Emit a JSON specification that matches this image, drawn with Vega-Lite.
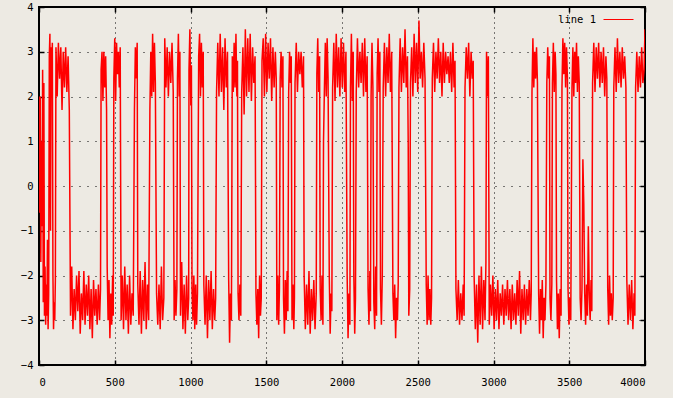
{
  "$schema": "https://vega.github.io/schema/vega-lite/v6.json",
  "autosize": {"type": "none"},
  "padding": {"left": 39, "top": 7, "right": 28, "bottom": 33},
  "width": 606,
  "height": 358,
  "background": "#EDEAE3",
  "config": {
    "view": {"stroke": "#000000", "strokeWidth": 2, "fill": null},
    "font": "DejaVu Sans Mono"
  },
  "data": {"values": [
{"t":0,"v":2.0},{"t":4,"v":-0.6},{"t":8,"v":2.0},{"t":12,"v":-1.7},{"t":16,"v":1.0},{"t":20,"v":-0.9},{"t":24,"v":2.6},{"t":28,"v":-2.6},{"t":32,"v":2.3},{"t":36,"v":-2.9},{"t":40,"v":-1.8},{"t":44,"v":-3.1},{"t":48,"v":-2.2},{"t":52,"v":-2.9},{"t":56,"v":-1.2},{"t":60,"v":-3.2},{"t":64,"v":-2.4},
{"t":68,"v":2.9},{"t":72,"v":3.4},{"t":76,"v":-1.0},{"t":80,"v":3.1},{"t":84,"v":2.5},{"t":88,"v":3.2},
{"t":92,"v":-2.0},{"t":96,"v":-3.2},{"t":100,"v":-2.6},{"t":104,"v":-3.0},{"t":108,"v":-2.1},
{"t":112,"v":3.1},{"t":120,"v":2.0},{"t":128,"v":3.2},{"t":136,"v":2.4},{"t":144,"v":3.1},{"t":152,"v":1.7},{"t":160,"v":3.0},{"t":168,"v":2.2},{"t":176,"v":3.1},{"t":184,"v":2.1},{"t":192,"v":2.9},{"t":200,"v":1.7},
{"t":208,"v":-2.9},{"t":216,"v":-1.8},{"t":224,"v":-3.2},{"t":232,"v":-2.3},{"t":240,"v":-3.0},{"t":248,"v":-2.0},{"t":256,"v":-2.8},{"t":264,"v":-1.9},{"t":272,"v":-3.3},{"t":280,"v":-2.4},{"t":288,"v":-3.0},{"t":296,"v":-1.9},{"t":304,"v":-3.1},{"t":312,"v":-2.2},{"t":320,"v":-2.9},{"t":328,"v":-2.0},{"t":336,"v":-3.2},{"t":344,"v":-2.3},{"t":352,"v":-3.4},{"t":360,"v":-2.1},{"t":368,"v":-2.9},{"t":376,"v":-2.3},{"t":384,"v":-3.1},{"t":392,"v":-2.2},{"t":400,"v":-3.0},{"t":406,"v":-2.3},
{"t":410,"v":2.6},{"t":416,"v":3.0},{"t":422,"v":1.9},{"t":428,"v":3.0},{"t":434,"v":2.2},{"t":440,"v":2.9},{"t":446,"v":1.7},
{"t":450,"v":-1.8},{"t":456,"v":-3.0},{"t":462,"v":-2.1},{"t":468,"v":-3.4},{"t":474,"v":-2.4},{"t":480,"v":-3.1},{"t":486,"v":-2.0},{"t":490,"v":-2.9},
{"t":494,"v":2.4},{"t":500,"v":3.3},{"t":506,"v":1.9},{"t":512,"v":3.2},{"t":518,"v":2.5},{"t":524,"v":3.0},{"t":530,"v":2.2},{"t":536,"v":3.1},
{"t":542,"v":-3.0},{"t":550,"v":-2.0},{"t":558,"v":-3.2},{"t":566,"v":-1.8},{"t":574,"v":-3.0},{"t":582,"v":-2.2},{"t":590,"v":-3.3},{"t":598,"v":-2.0},{"t":606,"v":-3.1},{"t":614,"v":-2.4},{"t":622,"v":-2.9},
{"t":630,"v":1.7},{"t":636,"v":3.1},{"t":642,"v":2.4},{"t":648,"v":3.2},
{"t":652,"v":-2.2},{"t":660,"v":-3.1},{"t":668,"v":-1.9},{"t":676,"v":-3.3},{"t":684,"v":-2.1},{"t":692,"v":-3.0},{"t":700,"v":-1.7},{"t":708,"v":-3.2},{"t":716,"v":-2.2},{"t":724,"v":-3.0},
{"t":732,"v":1.7},{"t":738,"v":3.0},{"t":744,"v":2.0},{"t":750,"v":3.4},{"t":756,"v":2.1},{"t":762,"v":3.2},{"t":768,"v":2.3},
{"t":776,"v":-2.4},{"t":784,"v":-3.1},{"t":792,"v":-2.2},{"t":800,"v":-3.2},{"t":808,"v":-1.8},{"t":816,"v":-3.0},{"t":824,"v":-2.5},
{"t":830,"v":3.3},{"t":838,"v":2.2},{"t":846,"v":3.1},{"t":854,"v":2.0},{"t":862,"v":3.0},{"t":870,"v":2.3},{"t":878,"v":3.2},{"t":886,"v":2.1},
{"t":892,"v":-3.0},{"t":898,"v":-2.1},{"t":904,"v":-2.9},{"t":910,"v":-2.3},
{"t":914,"v":2.4},{"t":920,"v":3.4},{"t":926,"v":2.0},{"t":930,"v":3.0},
{"t":934,"v":-2.9},{"t":942,"v":-1.7},{"t":950,"v":-3.2},{"t":958,"v":-2.2},{"t":966,"v":-3.3},{"t":974,"v":-2.0},{"t":982,"v":-3.0},{"t":988,"v":-2.5},
{"t":990,"v":2.6},{"t":996,"v":3.5},{"t":1002,"v":1.8},{"t":1006,"v":2.7},
{"t":1010,"v":-2.3},{"t":1016,"v":-3.0},{"t":1022,"v":-2.0},{"t":1028,"v":-3.2},{"t":1034,"v":-2.2},{"t":1040,"v":-3.1},{"t":1046,"v":-2.4},
{"t":1054,"v":2.9},{"t":1060,"v":3.4},{"t":1066,"v":2.0},{"t":1072,"v":3.2},{"t":1078,"v":2.2},{"t":1084,"v":3.0},
{"t":1088,"v":-2.2},{"t":1096,"v":-3.1},{"t":1104,"v":-2.0},{"t":1112,"v":-3.4},{"t":1120,"v":-2.1},{"t":1128,"v":-3.0},{"t":1136,"v":-1.9},{"t":1144,"v":-3.2},{"t":1152,"v":-2.3},{"t":1160,"v":-3.0},{"t":1166,"v":-2.5},
{"t":1172,"v":2.1},{"t":1180,"v":3.2},{"t":1188,"v":2.0},{"t":1196,"v":3.4},{"t":1204,"v":2.1},{"t":1212,"v":3.1},{"t":1220,"v":1.7},{"t":1228,"v":3.3},{"t":1236,"v":2.2},{"t":1244,"v":3.0},
{"t":1252,"v":-2.1},{"t":1258,"v":-3.5},{"t":1264,"v":-2.4},{"t":1270,"v":-3.0},
{"t":1276,"v":2.9},{"t":1282,"v":2.1},{"t":1288,"v":3.2},{"t":1294,"v":2.2},{"t":1300,"v":3.4},{"t":1306,"v":2.0},{"t":1310,"v":2.8},
{"t":1314,"v":-2.4},{"t":1320,"v":-3.0},{"t":1326,"v":-2.2},{"t":1332,"v":-2.9},
{"t":1338,"v":2.1},{"t":1346,"v":3.1},{"t":1354,"v":1.6},{"t":1362,"v":3.5},{"t":1370,"v":2.0},{"t":1378,"v":3.3},{"t":1386,"v":2.1},{"t":1394,"v":3.4},{"t":1402,"v":1.9},{"t":1410,"v":3.1},{"t":1418,"v":2.3},{"t":1426,"v":2.9},
{"t":1432,"v":-2.4},{"t":1438,"v":-3.1},{"t":1444,"v":-2.3},{"t":1450,"v":-3.4},{"t":1456,"v":-2.0},{"t":1462,"v":-2.9},{"t":1467,"v":-2.5},
{"t":1472,"v":2.8},{"t":1480,"v":3.3},{"t":1488,"v":2.0},{"t":1496,"v":3.4},{"t":1504,"v":2.1},{"t":1512,"v":3.2},{"t":1520,"v":2.4},{"t":1528,"v":3.3},{"t":1536,"v":1.9},{"t":1544,"v":3.1},{"t":1552,"v":2.2},{"t":1560,"v":3.0},{"t":1566,"v":2.4},
{"t":1570,"v":-3.0},{"t":1576,"v":-2.0},{"t":1582,"v":-3.1},{"t":1587,"v":-2.3},
{"t":1592,"v":2.4},{"t":1598,"v":3.0},{"t":1604,"v":2.2},{"t":1610,"v":2.9},
{"t":1614,"v":-2.5},{"t":1620,"v":-3.3},{"t":1626,"v":-2.1},{"t":1632,"v":-3.0},{"t":1638,"v":-1.9},{"t":1643,"v":-2.8},
{"t":1648,"v":2.1},{"t":1654,"v":3.0},{"t":1660,"v":2.3},{"t":1665,"v":2.9},
{"t":1670,"v":-3.0},{"t":1676,"v":-2.2},{"t":1682,"v":-3.2},{"t":1686,"v":-2.5},
{"t":1690,"v":2.3},{"t":1698,"v":3.2},{"t":1706,"v":2.1},{"t":1714,"v":3.0},{"t":1722,"v":2.5},{"t":1730,"v":3.0},{"t":1738,"v":2.2},{"t":1746,"v":2.9},
{"t":1750,"v":-2.0},{"t":1758,"v":-3.2},{"t":1766,"v":-2.2},{"t":1774,"v":-3.1},{"t":1782,"v":-1.9},{"t":1790,"v":-3.3},{"t":1798,"v":-2.3},{"t":1806,"v":-3.0},{"t":1814,"v":-2.1},{"t":1822,"v":-3.2},{"t":1830,"v":-2.4},
{"t":1834,"v":2.5},{"t":1840,"v":3.3},{"t":1846,"v":2.1},{"t":1852,"v":2.9},
{"t":1856,"v":-2.3},{"t":1862,"v":-3.0},{"t":1868,"v":-2.0},{"t":1874,"v":-3.1},
{"t":1878,"v":1.0},{"t":1884,"v":2.2},{"t":1890,"v":3.2},{"t":1896,"v":2.0},{"t":1902,"v":3.3},{"t":1908,"v":2.4},
{"t":1916,"v":-2.0},{"t":1922,"v":-3.3},{"t":1928,"v":-2.4},{"t":1933,"v":-2.8},
{"t":1938,"v":2.2},{"t":1946,"v":3.2},{"t":1954,"v":1.9},{"t":1962,"v":3.4},{"t":1970,"v":2.2},{"t":1978,"v":3.1},{"t":1986,"v":2.0},{"t":1994,"v":3.3},{"t":2002,"v":2.2},{"t":2010,"v":3.2},{"t":2018,"v":2.1},{"t":2026,"v":3.0},
{"t":2034,"v":-2.0},{"t":2040,"v":-3.4},{"t":2046,"v":-2.4},{"t":2052,"v":-3.1},
{"t":2056,"v":2.2},{"t":2062,"v":3.4},{"t":2068,"v":1.9},{"t":2074,"v":3.0},
{"t":2078,"v":-2.0},{"t":2084,"v":-3.3},{"t":2089,"v":-2.5},
{"t":2094,"v":2.1},{"t":2102,"v":3.3},{"t":2110,"v":2.2},{"t":2118,"v":3.0},{"t":2126,"v":2.3},{"t":2134,"v":3.2},{"t":2142,"v":2.0},{"t":2150,"v":3.3},{"t":2158,"v":2.1},{"t":2166,"v":2.9},
{"t":2172,"v":-2.3},{"t":2178,"v":-3.1},{"t":2184,"v":-1.9},{"t":2188,"v":-2.8},
{"t":2192,"v":2.0},{"t":2198,"v":3.2},{"t":2204,"v":2.2},
{"t":2210,"v":-2.6},{"t":2216,"v":-3.2},{"t":2222,"v":-1.8},{"t":2228,"v":-2.9},
{"t":2232,"v":2.5},{"t":2238,"v":3.3},{"t":2244,"v":2.1},{"t":2250,"v":3.0},
{"t":2254,"v":-2.3},{"t":2260,"v":-3.1},{"t":2266,"v":-2.0},
{"t":2272,"v":2.2},{"t":2280,"v":3.2},{"t":2288,"v":2.0},{"t":2296,"v":3.1},{"t":2304,"v":2.3},{"t":2312,"v":3.4},{"t":2320,"v":2.1},{"t":2328,"v":3.0},
{"t":2336,"v":-2.4},{"t":2342,"v":-3.0},{"t":2348,"v":-2.2},{"t":2354,"v":-3.4},{"t":2360,"v":-2.5},{"t":2366,"v":-3.0},{"t":2371,"v":-2.2},
{"t":2376,"v":2.2},{"t":2384,"v":3.3},{"t":2392,"v":2.1},{"t":2400,"v":3.1},{"t":2408,"v":2.3},{"t":2416,"v":3.5},{"t":2424,"v":2.2},{"t":2432,"v":2.9},{"t":2437,"v":1.0},
{"t":2441,"v":-2.9},{"t":2447,"v":-2.3},
{"t":2452,"v":2.3},{"t":2460,"v":3.1},{"t":2468,"v":2.0},{"t":2476,"v":3.4},{"t":2484,"v":2.3},{"t":2492,"v":3.2},{"t":2500,"v":2.1},{"t":2508,"v":3.7},{"t":2516,"v":2.4},{"t":2524,"v":3.0},{"t":2532,"v":2.2},{"t":2540,"v":3.2},{"t":2548,"v":2.4},
{"t":2556,"v":-2.2},{"t":2562,"v":-3.1},{"t":2568,"v":-2.0},{"t":2574,"v":-3.0},{"t":2580,"v":-2.3},{"t":2586,"v":-3.1},{"t":2591,"v":-2.5},
{"t":2596,"v":2.4},{"t":2604,"v":3.2},{"t":2612,"v":2.1},{"t":2620,"v":3.0},{"t":2628,"v":2.4},{"t":2636,"v":3.3},{"t":2644,"v":2.3},{"t":2652,"v":3.0},{"t":2660,"v":2.0},{"t":2668,"v":3.2},{"t":2676,"v":2.3},{"t":2684,"v":3.0},{"t":2692,"v":2.5},{"t":2700,"v":2.9},{"t":2708,"v":2.3},{"t":2716,"v":3.0},{"t":2724,"v":2.1},{"t":2732,"v":3.2},{"t":2740,"v":2.2},{"t":2746,"v":2.8},
{"t":2752,"v":-2.3},{"t":2760,"v":-3.0},{"t":2768,"v":-2.1},{"t":2776,"v":-3.1},{"t":2784,"v":-2.4},{"t":2792,"v":-3.0},{"t":2800,"v":-2.2},{"t":2806,"v":-2.9},
{"t":2812,"v":2.2},{"t":2820,"v":3.1},{"t":2828,"v":2.4},{"t":2836,"v":3.2},{"t":2844,"v":2.0},{"t":2852,"v":3.0},{"t":2860,"v":2.4},{"t":2866,"v":2.8},
{"t":2872,"v":-2.0},{"t":2880,"v":-3.2},{"t":2888,"v":-2.2},{"t":2896,"v":-3.5},{"t":2904,"v":-2.0},{"t":2912,"v":-3.1},{"t":2920,"v":-1.8},{"t":2928,"v":-3.2},{"t":2936,"v":-2.1},{"t":2944,"v":-3.0},{"t":2950,"v":-1.7},
{"t":2954,"v":3.0},{"t":2960,"v":2.0},{"t":2966,"v":2.9},
{"t":2972,"v":-3.1},{"t":2980,"v":-2.2},{"t":2988,"v":-2.9},{"t":2996,"v":-2.0},{"t":3004,"v":-3.2},{"t":3012,"v":-2.3},{"t":3020,"v":-3.0},{"t":3028,"v":-2.1},{"t":3036,"v":-3.2},{"t":3044,"v":-2.4},{"t":3052,"v":-2.9},{"t":3060,"v":-2.2},{"t":3068,"v":-3.1},{"t":3076,"v":-2.3},{"t":3084,"v":-2.9},{"t":3092,"v":-2.1},{"t":3100,"v":-3.0},{"t":3108,"v":-2.3},{"t":3116,"v":-3.2},{"t":3124,"v":-2.2},{"t":3132,"v":-3.0},{"t":3140,"v":-2.4},{"t":3148,"v":-3.1},{"t":3156,"v":-2.1},{"t":3164,"v":-2.9},{"t":3172,"v":-1.9},{"t":3180,"v":-3.3},{"t":3188,"v":-2.3},{"t":3196,"v":-3.0},{"t":3204,"v":-2.2},{"t":3212,"v":-3.1},{"t":3220,"v":-2.3},{"t":3228,"v":-2.9},{"t":3236,"v":-2.1},{"t":3244,"v":-3.0},{"t":3249,"v":-2.4},
{"t":3254,"v":2.1},{"t":3260,"v":3.3},{"t":3266,"v":2.2},{"t":3272,"v":3.0},{"t":3278,"v":2.4},{"t":3284,"v":3.1},{"t":3290,"v":2.3},
{"t":3298,"v":-2.4},{"t":3304,"v":-3.3},{"t":3310,"v":-2.3},{"t":3316,"v":-3.0},{"t":3322,"v":-2.1},{"t":3328,"v":-3.4},{"t":3334,"v":-2.5},{"t":3340,"v":-3.0},{"t":3346,"v":-2.2},
{"t":3352,"v":2.3},{"t":3358,"v":3.1},{"t":3364,"v":2.4},{"t":3369,"v":2.9},
{"t":3373,"v":-2.5},{"t":3379,"v":-3.0},{"t":3385,"v":-2.2},
{"t":3389,"v":2.3},{"t":3395,"v":3.2},{"t":3401,"v":2.1},{"t":3407,"v":3.0},{"t":3412,"v":2.5},
{"t":3416,"v":-2.1},{"t":3422,"v":-3.2},{"t":3428,"v":-2.4},{"t":3434,"v":-3.4},{"t":3440,"v":-2.3},{"t":3446,"v":-2.9},
{"t":3452,"v":2.2},{"t":3458,"v":3.3},{"t":3464,"v":2.5},{"t":3470,"v":3.2},{"t":3476,"v":2.2},{"t":3482,"v":3.1},{"t":3488,"v":2.4},
{"t":3492,"v":-2.3},{"t":3498,"v":-3.1},{"t":3504,"v":-2.5},{"t":3510,"v":-3.0},
{"t":3518,"v":2.2},{"t":3524,"v":3.1},{"t":3530,"v":2.0},{"t":3536,"v":3.0},{"t":3542,"v":2.3},{"t":3548,"v":3.2},{"t":3554,"v":2.1},{"t":3560,"v":2.9},{"t":3566,"v":2.3},
{"t":3572,"v":-2.5},{"t":3578,"v":-3.0},{"t":3584,"v":-2.3},{"t":3590,"v":0.6},{"t":3596,"v":-0.4},{"t":3602,"v":-2.4},{"t":3608,"v":-3.1},{"t":3614,"v":-2.2},{"t":3620,"v":-2.9},{"t":3626,"v":-0.9},{"t":3632,"v":-2.4},{"t":3638,"v":-3.0},{"t":3644,"v":-2.1},{"t":3649,"v":-2.8},
{"t":3654,"v":2.3},{"t":3662,"v":3.2},{"t":3670,"v":2.1},{"t":3678,"v":3.1},{"t":3686,"v":2.4},{"t":3694,"v":3.2},{"t":3702,"v":2.2},{"t":3710,"v":3.0},{"t":3718,"v":2.3},{"t":3726,"v":3.1},{"t":3734,"v":2.0},{"t":3742,"v":2.9},{"t":3748,"v":2.4},
{"t":3754,"v":-2.3},{"t":3760,"v":-3.1},{"t":3766,"v":-2.0},{"t":3772,"v":-2.9},{"t":3778,"v":-2.4},{"t":3784,"v":-3.0},{"t":3790,"v":-2.5},
{"t":3794,"v":2.2},{"t":3802,"v":3.1},{"t":3810,"v":2.1},{"t":3818,"v":3.3},{"t":3826,"v":2.3},{"t":3834,"v":3.0},{"t":3842,"v":2.2},{"t":3850,"v":3.1},{"t":3858,"v":2.4},{"t":3866,"v":2.9},{"t":3874,"v":2.2},
{"t":3880,"v":-2.1},{"t":3888,"v":-3.1},{"t":3896,"v":-2.2},{"t":3904,"v":-3.0},{"t":3912,"v":-2.1},{"t":3920,"v":-3.2},{"t":3928,"v":-2.4},{"t":3933,"v":-2.9},
{"t":3938,"v":2.2},{"t":3946,"v":3.0},{"t":3954,"v":2.1},{"t":3962,"v":2.9},{"t":3970,"v":2.2},{"t":3978,"v":3.1},{"t":3986,"v":2.3},{"t":3994,"v":2.6},{"t":4000,"v":3.5}
  ]},
  "layer": [
    {
      "mark": {"type": "line", "strokeWidth": 1.5, "clip": true},
      "encoding": {
        "x": {
          "field": "t", "type": "quantitative",
          "scale": {"domain": [0, 4000], "nice": false, "zero": false},
          "axis": {
            "orient": "bottom", "title": null, "values": [0, 500, 1000, 1500, 2000, 2500, 3000, 3500, 4000], "format": "d",
            "domain": false, "ticks": true, "tickSize": -5, "tickColor": "#000000", "tickWidth": 1.5,
            "labelPadding": 17, "labelFont": "DejaVu Sans Mono", "labelFontSize": 10.5, "labelColor": "#000000",
            "grid": true, "gridColor": "#000000", "gridDash": [1, 4], "gridOpacity": 1, "gridWidth": 1
          }
        },
        "y": {
          "field": "v", "type": "quantitative",
          "scale": {"domain": [-4, 4], "nice": false, "zero": false},
          "axis": {
            "orient": "left", "title": null, "values": [-4, -3, -2, -1, 0, 1, 2, 3, 4], "format": "d",
            "domain": false, "ticks": true, "tickSize": -5, "tickColor": "#000000", "tickWidth": 1.5,
            "labelPadding": 11, "labelFont": "DejaVu Sans Mono", "labelFontSize": 10.5, "labelColor": "#000000",
            "grid": true, "gridColor": "#000000", "gridDash": [1, 7], "gridOpacity": 1, "gridWidth": 1
          }
        },
        "color": {
          "datum": "line 1",
          "scale": {"range": ["#ff0000"]},
          "legend": {
            "title": null, "orient": "none", "legendX": 564, "legendY": -3,
            "symbolType": "stroke", "symbolSize": 900, "symbolStrokeWidth": 1,
            "labelFont": "DejaVu Sans Mono", "labelFontSize": 10.5, "labelColor": "#000000",
            "labelAlign": "right", "labelOffset": -38, "padding": 0
          }
        }
      }
    },
    {
      "data": {"values": [{"t": 0, "v": 0}]},
      "mark": {"type": "point", "opacity": 0},
      "encoding": {
        "x": {
          "field": "t", "type": "quantitative",
          "axis": {"orient": "top", "title": null, "values": [0, 500, 1000, 1500, 2000, 2500, 3000, 3500, 4000],
            "domain": false, "labels": false, "grid": false, "tickSize": -5, "tickColor": "#000000", "tickWidth": 1.5}
        },
        "y": {
          "field": "v", "type": "quantitative",
          "axis": {"orient": "right", "title": null, "values": [-4, -3, -2, -1, 0, 1, 2, 3, 4],
            "domain": false, "labels": false, "grid": false, "tickSize": -5, "tickColor": "#000000", "tickWidth": 1.5}
        }
      }
    }
  ]
}
